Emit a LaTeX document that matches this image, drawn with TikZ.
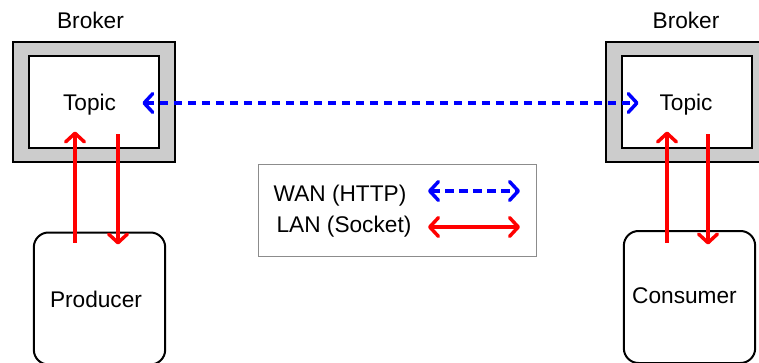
\documentclass[tikz,border=0pt]{standalone}
\usepackage{fontspec}
\setmainfont{Liberation Sans}
\usetikzlibrary{arrows.meta}

\tikzset{
  chev/.tip={Straight Barb[length=6.5pt,width=14pt,round]},
  broker/.style={draw, line width=1.5pt, fill=black!20, minimum width=122pt, minimum height=90pt},
  topic/.style={draw, line width=1.5pt, fill=white, minimum width=98pt, minimum height=69pt},
  client/.style={draw, line width=1.5pt, rounded corners=11pt, minimum width=98.5pt, minimum height=99pt},
  txt/.style={anchor=base},
  lan/.style={draw=red, line width=2.6pt, -chev},
  wan/.style={draw=blue, line width=2.6pt, dash pattern=on 6.5pt off 4pt, chev-chev},
}

\begin{document}
\begin{tikzpicture}[x=0.75pt, y=-0.75pt, every node/.style={font=\fontsize{17}{20}\selectfont}]
        \useasboundingbox (0,0) rectangle (759,363);
        \node [broker] (brokerL) at (94,102) {};
        \node [topic] (topicL) at (94,102.5) {};
        \node [txt] (brokerLtext) at (90.5,29) {Broker};
        \node [txt] (topicLtext) at (89.5,111) {Topic};
        \node [broker] (brokerR) at (687,102) {};
        \node [topic] (topicR) at (687,102.5) {};
        \node [txt] (brokerRtext) at (686,29) {Broker};
        \node [txt] (topicRtext) at (686,111) {Topic};
        \node [client] (prod) at (99.5,298.5) {};
        \node [txt] (prodText) at (96,307) {Producer};
        \node [client] (cons) at (689.5,297) {};
        \node [txt] (consText) at (684.5,303) {Consumer};
        \node [draw=black!45, line width=1pt, minimum width=208.5pt, minimum height=69pt] (legend) at (397.5,210.5) {};
        \node [txt] (wanText) at (340,202) {WAN (HTTP)};
        \node [txt] (lanText) at (344,233) {LAN (Socket)};
        \coordinate (wanA) at (428,191);
        \coordinate (wanB) at (520,191);
        \coordinate (lanA) at (428,227);
        \coordinate (lanB) at (520,227);
        \draw [wan] (wanA) -- (wanB);
        \draw [lan, chev-chev] (lanA) -- (lanB);
        \draw [wan] ([shift={(-18,0.5)}]topicL.east) -- ([shift={(18,0.5)}]topicR.west);
        \draw [lan] ([shift={(-24.5,11)}]prod.north) -- ([shift={(-19,-18)}]topicL.south);
        \draw [lan] ([shift={(24,-15)}]topicL.south) -- ([shift={(18.5,13)}]prod.north);
        \draw [lan] ([shift={(-22.5,12.5)}]cons.north) -- ([shift={(-20,-18)}]topicR.south);
        \draw [lan] ([shift={(21,-15)}]topicR.south) -- ([shift={(18.5,14.5)}]cons.north);
\end{tikzpicture}
\end{document}
